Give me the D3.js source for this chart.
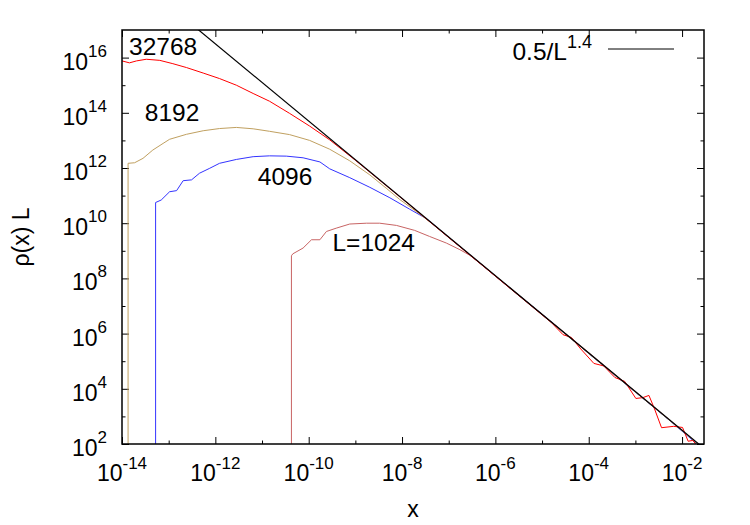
<!DOCTYPE html>
<html>
<head>
<meta charset="utf-8">
<script src="https://cdn.jsdelivr.net/npm/d3@7"></script>
<style>
body { margin: 0; background: #fff; }
text { font-family: "Liberation Sans", Arial, sans-serif; fill: #000; }
</style>
</head>
<body>
<svg id="chart" width="750" height="525"></svg>
<script>
// curves, as [log10 x, log10 rho(x)L]
// a log10 y of 0 is below the frame: the drop to the bottom axis
var rho32768 = [
  [-14.0, 15.88], [-13.84, 15.81], [-13.69, 15.88], [-13.48, 15.94], [-13.19, 15.90],
  [-12.91, 15.78], [-12.62, 15.64], [-12.26, 15.44], [-11.91, 15.24], [-11.55, 15.00],
  [-11.19, 14.70], [-10.84, 14.42], [-10.41, 13.98], [-9.98, 13.52], [-9.55, 13.02],
  [-9.0, 12.28], [-8.0, 10.89], [-7.0, 9.48], [-6.0, 8.08], [-5.0, 6.68],
  [-4.8, 6.40], [-4.55, 5.96], [-4.37, 5.86], [-4.19, 5.48], [-3.89, 4.92],
  [-3.68, 4.83], [-3.44, 4.41], [-3.23, 4.27], [-2.99, 3.65], [-2.84, 3.68],
  [-2.71, 3.76], [-2.59, 3.27], [-2.44, 2.59], [-2.18, 2.64], [-1.99, 2.60],
  [-1.87, 2.10], [-1.77, 2.13], [-1.66, 1.90]
];
var rho8192 = [
  [-13.87, 0], [-13.87, 12.17], [-13.73, 12.19], [-13.55, 12.35], [-13.34, 12.65],
  [-13.12, 12.89], [-12.98, 13.04], [-12.62, 13.22], [-12.26, 13.35], [-11.91, 13.43],
  [-11.55, 13.47], [-11.19, 13.42], [-10.84, 13.33], [-10.41, 13.21], [-9.98, 13.00],
  [-9.55, 12.68], [-9.12, 12.26], [-8.69, 11.75], [-8.34, 11.27], [-8.05, 10.86],
  [-7.62, 10.33], [-7.3, 9.91], [-6.5, 8.79], [-5.5, 7.40], [-4.5, 5.98],
  [-3.5, 4.58], [-2.5, 3.18], [-1.8, 2.20], [-1.6, 1.90]
];
var rho4096 = [
  [-13.28, 0], [-13.28, 10.75], [-13.16, 10.84], [-12.98, 11.14], [-12.83, 11.18],
  [-12.69, 11.54], [-12.51, 11.57], [-12.34, 11.81], [-12.12, 11.99], [-11.91, 12.17],
  [-11.55, 12.31], [-11.19, 12.41], [-10.84, 12.44], [-10.48, 12.43], [-10.12, 12.37],
  [-9.76, 12.22], [-9.55, 11.97], [-9.12, 11.65], [-8.69, 11.30], [-8.26, 10.92],
  [-7.84, 10.51], [-7.47, 10.16], [-7.0, 9.49], [-6.0, 8.09], [-5.0, 6.70],
  [-4.0, 5.28], [-3.0, 3.88], [-2.3, 2.90], [-1.7, 2.03]
];
var rho1024 = [
  [-10.37, 0], [-10.37, 8.82], [-10.34, 8.89], [-10.12, 9.10], [-9.94, 9.40],
  [-9.76, 9.40], [-9.62, 9.70], [-9.41, 9.82], [-9.12, 9.97], [-8.76, 10.00],
  [-8.48, 10.00], [-8.12, 9.92], [-7.73, 9.74], [-7.41, 9.52], [-7.05, 9.28],
  [-6.76, 9.04], [-6.55, 8.84], [-6.34, 8.57], [-6.0, 8.08], [-5.0, 6.70],
  [-4.0, 5.31], [-3.0, 3.90], [-2.3, 2.92], [-1.7, 2.06]
];

var curveNames = ["L=1024", "4096", "8192", "32768"];
var fitCoef = 0.5, fitExp = 1.4;
var fitLabel = ["0.5/L", "1.4"];

var xLabelExps = [-14, -12, -10, -8, -6, -4, -2];
var xMinorExps = [-13, -11, -9, -7, -5, -3];
var yLabelExps = [2, 4, 6, 8, 10, 12, 14, 16];
var yMinorExps = [3, 5, 7, 9, 11, 13, 15];

var w = 750,
    h = 525,
    m = [30, 46, 81, 122]; // top right bottom left
var iw = w - m[1] - m[3],
    ih = h - m[0] - m[2];

var x = d3.scaleLog().domain([1e-14, 0.0295]).range([0, iw]);
var y = d3.scaleLog().domain([1e2, 1e17]).range([ih, 0]);
var p10 = function(e) { return Math.pow(10, e); };

var svg = d3.select("#chart");
var g = svg.append("g").attr("transform", "translate(" + m[3] + "," + m[0] + ")");

g.append("clipPath").attr("id", "clip")
  .append("rect").attr("width", iw).attr("height", ih);

// ticks, all pointing inwards, on the four sides
function tickSet(axis, vals, len, tr) {
  var a = g.append("g").attr("transform", tr)
    .call(axis.tickValues(vals.map(p10)).tickSize(-len).tickFormat(""));
  a.select(".domain").remove();
  a.selectAll("line").attr("stroke", "#000").attr("stroke-width", 1);
}
[[xLabelExps, 7], [xMinorExps, 3.5]].forEach(function(t) {
  tickSet(d3.axisBottom(x), t[0], t[1], "translate(0," + ih + ")");
  tickSet(d3.axisTop(x), t[0], t[1], "translate(0,0)");
});
[[yLabelExps, 7], [yMinorExps, 3.5]].forEach(function(t) {
  tickSet(d3.axisLeft(y), t[0], t[1], "translate(0,0)");
  tickSet(d3.axisRight(y), t[0], t[1], "translate(" + iw + ",0)");
});

var xl = g.selectAll("text.xl").data(xLabelExps).enter().append("text")
    .attr("class", "xl")
    .attr("x", function(d) { return x(p10(d)); })
    .attr("y", ih + 37)
    .attr("text-anchor", "middle")
    .style("font-size", "23px");
xl.append("tspan").text("10");
xl.append("tspan").attr("dy", -12).style("font-size", "17px").text(function(d) { return d; });

var yl = g.selectAll("text.yl").data(yLabelExps).enter().append("text")
    .attr("class", "yl")
    .attr("x", -15)
    .attr("y", function(d) { return y(p10(d)) + 12; })
    .attr("text-anchor", "end")
    .style("font-size", "23px");
yl.append("tspan").text("10");
yl.append("tspan").attr("dy", -13).style("font-size", "17px").text(function(d) { return d; });

g.append("text")
    .attr("x", iw / 2).attr("y", ih + 73)
    .attr("text-anchor", "middle")
    .style("font-size", "23px")
    .text("x");

g.append("text")
    .attr("transform", "translate(-101," + ih / 2 + ") rotate(-90)")
    .attr("text-anchor", "middle")
    .attr("dominant-baseline", "central")
    .style("font-size", "23px")
    .text("\u03c1(x) L");

// curves
var line = d3.line()
    .x(function(d) { return x(p10(d[0])); })
    .y(function(d) { return y(p10(d[1])); });

var plot = g.append("g").attr("clip-path", "url(#clip)");
var curves = [rho1024, rho4096, rho8192, rho32768];
var colors = ["#c86464", "#3333ff", "#c0a060", "#ff0000"];
curves.forEach(function(c, i) {
  plot.append("path")
    .attr("d", line(c))
    .attr("fill", "none")
    .attr("stroke", colors[i])
    .attr("stroke-width", 1);
});

// power law 0.5 x^-1.4 across the x domain
var fit = x.domain().map(function(v) { return [v, fitCoef * Math.pow(v, -fitExp)]; });
plot.append("path")
  .attr("d", d3.line().x(function(d) { return x(d[0]); }).y(function(d) { return y(d[1]); })(fit))
  .attr("fill", "none")
  .attr("stroke", "#000")
  .attr("stroke-width", 1.2);

// curve labels, placed in data coordinates
var labelAt = [[-9.49, 9.01], [-11.09, 11.39], [-13.51, 13.71], [-13.85, 16.08]];
curveNames.forEach(function(n, i) {
  g.append("text")
    .attr("x", x(p10(labelAt[i][0])))
    .attr("y", y(p10(labelAt[i][1])))
    .style("font-size", "24.5px")
    .text(n);
});

// key
var key = g.append("text")
    .attr("x", 470).attr("y", 30)
    .attr("text-anchor", "end")
    .style("font-size", "24.5px");
key.append("tspan").text(fitLabel[0]);
key.append("tspan").attr("dy", -12).style("font-size", "18px").text(fitLabel[1]);
g.append("line")
    .attr("x1", 486).attr("x2", 552).attr("y1", 19).attr("y2", 19)
    .attr("stroke", "#000").attr("stroke-width", 1);

g.append("rect")
    .attr("width", iw).attr("height", ih)
    .attr("fill", "none")
    .attr("stroke", "#000")
    .attr("stroke-width", 1.5);
</script>
</body>
</html>
